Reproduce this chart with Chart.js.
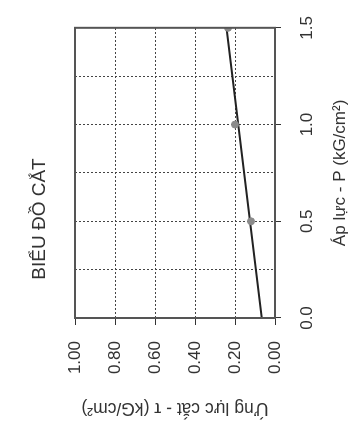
<!DOCTYPE html>
<html lang="vi">
<head>
    <meta charset="UTF-8">
    <title>Biểu đồ cắt</title>
    <script src="https://cdn.jsdelivr.net/npm/chart.js"></script>
    <style>
        html, body { margin: 0; padding: 0; background: #fff; overflow: hidden; }
        #wrap {
            position: absolute; left: 0; top: 0;
            width: 428px; height: 361px;
            transform-origin: top left;
            transform: translate(0, 428px) rotate(-90deg);
        }
    </style>
</head>
<body>
<div id="wrap"><canvas id="shearChart" width="428" height="361"></canvas></div>

<script>
    // measured points: pressure P (kG/cm2) vs shear stress tau (kG/cm2)
    const pressure = [0.5, 1.0, 1.5];
    const shear = [0.12, 0.20, 0.235];
    // fitted line
    const fitPressure = [0.0, 1.5];
    const fitShear = [0.066, 0.243];

    const FONT = "'Liberation Sans', Arial, sans-serif";
    const isHalf = v => Math.abs(v * 2 - Math.round(v * 2)) < 1e-6;

    // closed frame around the plot
    const frame = {
        id: 'frame',
        afterDraw(chart) {
            const a = chart.chartArea, c = chart.ctx;
            c.save();
            c.strokeStyle = '#555';
            c.lineWidth = 2;
            c.strokeRect(a.left, a.top, a.right - a.left, a.bottom - a.top);
            c.restore();
        }
    };

    new Chart(document.getElementById('shearChart'), {
        type: 'scatter',
        data: {
            datasets: [{
                data: fitPressure.map((p, i) => ({x: p, y: fitShear[i]})),
                showLine: true,
                borderColor: '#222',
                borderWidth: 2,
                pointRadius: 0,
                order: 2
            }, {
                data: pressure.map((p, i) => ({x: p, y: shear[i]})),
                backgroundColor: '#8a8a8a',
                borderColor: '#8a8a8a',
                pointRadius: 3.5,
                order: 1
            }]
        },
        options: {
            responsive: false,
            animation: false,
            layout: { padding: { right: 10 } },
            plugins: {
                legend: { display: false },
                tooltip: { enabled: false },
                title: {
                    display: true,
                    text: 'BIỂU ĐỒ CẮT',
                    color: '#333',
                    font: { family: FONT, size: 19, weight: 'normal' },
                    padding: { top: 28.6, bottom: 23.6 }
                }
            },
            scales: {
                x: {
                    type: 'linear',
                    min: 0, max: 1.5,
                    afterFit: s => { s.height = 86; },
                    ticks: {
                        stepSize: 0.25,
                        padding: 16,
                        color: '#333',
                        font: { family: FONT, size: 17 },
                        callback: v => isHalf(v) ? v.toFixed(1) : ''
                    },
                    grid: {
                        color: '#444',
                        lineWidth: 1,
                        tickLength: 6,
                        tickColor: c => isHalf(c.tick.value) ? '#333' : 'rgba(0,0,0,0)'
                    },
                    border: { display: false, dash: [2, 2] },
                    title: {
                        display: true,
                        text: 'Áp lực - P (kG/cm²)',
                        color: '#333',
                        font: { family: FONT, size: 17 },
                        padding: { top: 0, bottom: 10 }
                    }
                },
                y: {
                    min: 0, max: 1.0,
                    afterFit: s => { s.width = 110; },
                    ticks: {
                        stepSize: 0.2,
                        padding: 16,
                        color: '#333',
                        font: { family: FONT, size: 17 },
                        callback: v => v.toFixed(2)
                    },
                    grid: {
                        color: '#444',
                        lineWidth: 1,
                        tickLength: 7,
                        tickColor: '#333'
                    },
                    border: { display: false, dash: [2, 2] },
                    title: {
                        display: true,
                        text: 'Ứng lực cắt - τ (kG/cm²)',
                        color: '#333',
                        font: { family: FONT, size: 17.5 },
                        padding: { top: 9.5, bottom: 0 }
                    }
                }
            }
        },
        plugins: [frame]
    });
</script>
</body>
</html>
